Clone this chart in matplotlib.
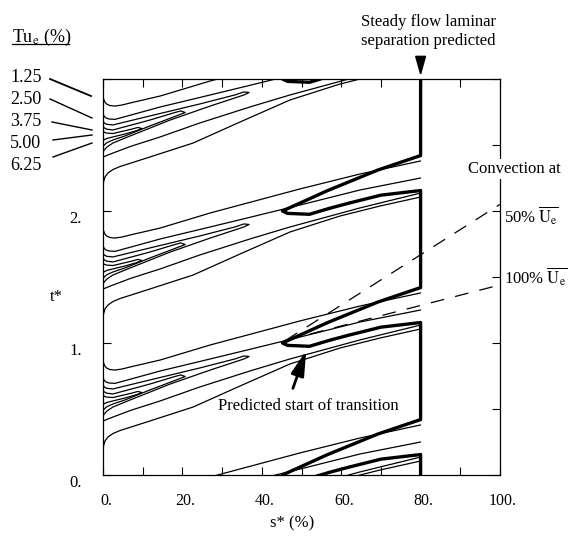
import numpy as np
import matplotlib
matplotlib.use("Agg")
import matplotlib.pyplot as plt
from matplotlib.lines import Line2D
from matplotlib.transforms import ScaledTranslation

plt.rcParams['font.family'] = ['Liberation Serif', 'DejaVu Serif']
plt.rcParams['mathtext.fontset'] = 'stix'

# ---------------------------------------------------------------------------
# Tu_e contours over one wake-passing period (s* in % of surface, t* relative)
# ---------------------------------------------------------------------------
tu_levels = ["1.25", "2.50", "3.75", "5.00", "6.25"]

tu125_upper_s = [0.0, 0.08, 0.38, 0.88, 1.76, 3.0, 4.8, 6.8, 14.4, 27.0, 38.3, 49.6, 64.7, 80.0]
tu125_upper_t = [0.886, 0.856, 0.830, 0.811, 0.799, 0.795, 0.803, 0.818, 0.871, 0.985,
                 1.076, 1.167, 1.280, 1.379]
tu125_lower_s = [0.0, 0.13, 0.5, 1.26, 2.5, 4.3, 11.8, 22.7, 34.5, 47.1, 59.7, 69.8, 80.0]
tu125_lower_t = [0.189, 0.220, 0.258, 0.288, 0.314, 0.337, 0.409, 0.515, 0.674, 0.841,
                 0.962, 1.038, 1.106]

tu250_upper_s = [0.0, 0.2, 0.6, 1.5, 3.0, 8.0, 14.4, 27.0, 36.3, 49.6, 64.7, 80.0]
tu250_upper_t = [0.742, 0.722, 0.707, 0.697, 0.694, 0.735, 0.788, 0.879, 0.947, 1.045,
                 1.159, 1.250]
tu250_lower_s = [0.0, 0.3, 0.9, 2.5, 7.0, 14.4, 24.4, 37.0, 47.1, 64.7, 80.0]
tu250_lower_t = [0.409, 0.412, 0.420, 0.439, 0.490, 0.561, 0.667, 0.788, 0.879, 1.023, 1.136]

tu375_s = [0.0, 0.3, 0.9, 2.5, 11.8, 24.4, 33.2, 35.5, 36.8, 35.5, 27.0, 16.9, 6.8, 2.5,
           1.0, 0.3, 0.0]
tu375_t = [0.682, 0.667, 0.657, 0.652, 0.720, 0.811, 0.879, 0.902, 0.898, 0.879, 0.795,
           0.689, 0.568, 0.515, 0.485, 0.462, 0.447]

tu500_s = [0.0, 0.3, 0.9, 2.5, 11.8, 18.1, 19.6, 20.7, 19.4, 11.8, 5.5, 2.5, 1.0, 0.3, 0.0]
tu500_t = [0.644, 0.630, 0.620, 0.614, 0.689, 0.746, 0.758, 0.746, 0.731, 0.644, 0.568,
           0.538, 0.518, 0.500, 0.485]

tu625_s = [0.0, 0.3, 0.9, 2.5, 6.8, 8.8, 9.8, 8.6, 5.5, 2.5, 1.0, 0.3, 0.0]
tu625_t = [0.606, 0.597, 0.590, 0.587, 0.617, 0.633, 0.625, 0.610, 0.583, 0.561, 0.550,
           0.540, 0.530]

wake_passings = [-1, 0, 1, 2]

# predicted start of transition (one period, tip at t* = 0)
trans_upper_s = [80.0, 69.2, 56.6, 45.2]
trans_upper_t = [0.42, 0.31, 0.155, 0.0]
trans_lower_s = [46.5, 52.0, 57.0, 62.0, 70.0, 80.0]
trans_lower_t = [-0.018, -0.025, 0.02, 0.06, 0.12, 0.155]
transition_periods = [3, 2, 1, 0, -1]

# convection lines from the transition tip
conv_start_s, conv_start_t = 46.0, 1.02
conv_end_s = 100.0
conv50_end_t = 2.05
conv100_end_t = 1.44

x_ticks = [0, 20, 40, 60, 80, 100]
x_ticklabels = ["0.", "20.", "40.", "60.", "80.", "100."]
y_ticks = [0, 1, 2, 3]
y_ticklabels = ["0.", "1.", "2.", ""]

# ---------------------------------------------------------------------------
W, H = 570, 543
fig = plt.figure(figsize=(W / 100, H / 100), dpi=100)
ax = fig.add_axes([103 / W, 1 - 475 / H, 397 / W, 396 / H])
ax.set_xlim(0, 100)
ax.set_ylim(0, 3)

thin = dict(color='black', lw=0.9, solid_joinstyle='round', solid_capstyle='round')
contours = [(tu125_upper_s, tu125_upper_t), (tu125_lower_s, tu125_lower_t),
            (tu250_upper_s, tu250_upper_t), (tu250_lower_s, tu250_lower_t),
            (tu375_s, tu375_t), (tu500_s, tu500_t), (tu625_s, tu625_t)]
for k in wake_passings:
    for s, t in contours:
        ax.plot(s, np.asarray(t) + k, **thin)

# thick transition-onset line, chained over the periods
ts, tt = [], []
for k in transition_periods:
    ts += trans_upper_s + trans_lower_s
    tt += [v + k for v in trans_upper_t + trans_lower_t]
ax.plot(ts, tt, color='black', lw=2.4, solid_joinstyle='round', solid_capstyle='butt')

# convection lines
dash = dict(color='black', lw=0.9, dashes=(11, 9))
ax.plot([conv_start_s, conv_end_s], [conv_start_t, conv50_end_t], **dash)
ax.plot([conv_start_s, conv_end_s], [conv_start_t, conv100_end_t], **dash)

# ticks
ax.set_xticks(x_ticks)
ax.set_xticklabels(x_ticklabels)
ax.set_xticks([10, 30, 50, 70, 90], minor=True)
ax.set_yticks(y_ticks)
ax.set_yticklabels(y_ticklabels)
ax.set_yticks([0.5, 1.5, 2.5], minor=True)
ax.tick_params(axis='x', which='both', direction='in', top=True, bottom=True,
               length=6, width=0.8, labelsize=11.5, pad=13)
ax.tick_params(axis='y', which='major', direction='in', left=True, right=True,
               length=6, width=0.8, labelsize=12, pad=15)
ax.tick_params(axis='y', which='minor', direction='in', left=False, right=True,
               length=6, width=0.8)
for lab in ax.get_yticklabels():
    lab.set_transform(lab.get_transform() + ScaledTranslation(0, -0.06, fig.dpi_scale_trans))
for lab in ax.get_xticklabels():
    lab.set_transform(lab.get_transform() + ScaledTranslation(0.03, 0, fig.dpi_scale_trans))
for sp in ax.spines.values():
    sp.set_linewidth(0.9)

# annotations
ax.text(81.9, 3.36, "Steady flow laminar\nseparation predicted", ha='center', va='center',
        fontsize=12, linespacing=1.3, clip_on=False)
ax.annotate('', xy=(80, 3.0), xytext=(80, 3.19), annotation_clip=False,
            arrowprops=dict(arrowstyle='-|>,head_length=0.6,head_width=0.17',
                            mutation_scale=20, color='black', lw=1.2))

ax.text(51.6, 0.523, "Predicted start of transition", ha='center', va='center', fontsize=12)
ax.annotate('', xy=(51.4, 0.962), xytext=(47.6, 0.636),
            arrowprops=dict(arrowstyle='-|>,head_length=0.75,head_width=0.2',
                            mutation_scale=20, color='black', lw=2.0))

ax.text(103.5, 2.32, "Convection at", ha='center', va='center', fontsize=12, clip_on=False,
        zorder=10, bbox=dict(facecolor='white', edgecolor='none', pad=1.5))
ax.text(101, 1.96, r"50% $\overline{\mathrm{U_e}}$", ha='left', va='center', fontsize=12,
        clip_on=False)
ax.text(101, 1.50, r"100% $\overline{\mathrm{U_e}}$", ha='left', va='center', fontsize=12,
        clip_on=False)

# axis titles
fig.text(56 / W, 1 - 297 / H, "t*", ha='center', va='center', fontsize=12)
fig.text(292 / W, 1 - 523 / H, "s* (%)", ha='center', va='center', fontsize=12)

# Tu_e level legend with pointers to the leading edge
fig.text(12 / W, 1 - 37 / H, r"Tu$_\mathrm{e}$ (%)", ha='left', va='center', fontsize=13)
fig.add_artist(Line2D([12 / W, 69 / W], [1 - 44 / H, 1 - 44 / H], color='black', lw=0.9))
label_y = [77, 99, 121, 143, 165]
pointers = [((50, 79), (91, 96)), ((50, 99), (92, 118)), ((52, 122), (92, 130)),
            ((53, 140), (92, 135)), ((53, 157), (92, 143))]
for lev, y, ((x0, y0), (x1, y1)) in zip(tu_levels, label_y, pointers):
    fig.text(10 / W, 1 - y / H, lev, ha='left', va='center', fontsize=13)
    fig.add_artist(Line2D([x0 / W, x1 / W], [1 - y0 / H, 1 - y1 / H], color='black',
                          lw=1.3 if lev == "1.25" else 1.0))

fig.savefig("out.png", dpi=100)
